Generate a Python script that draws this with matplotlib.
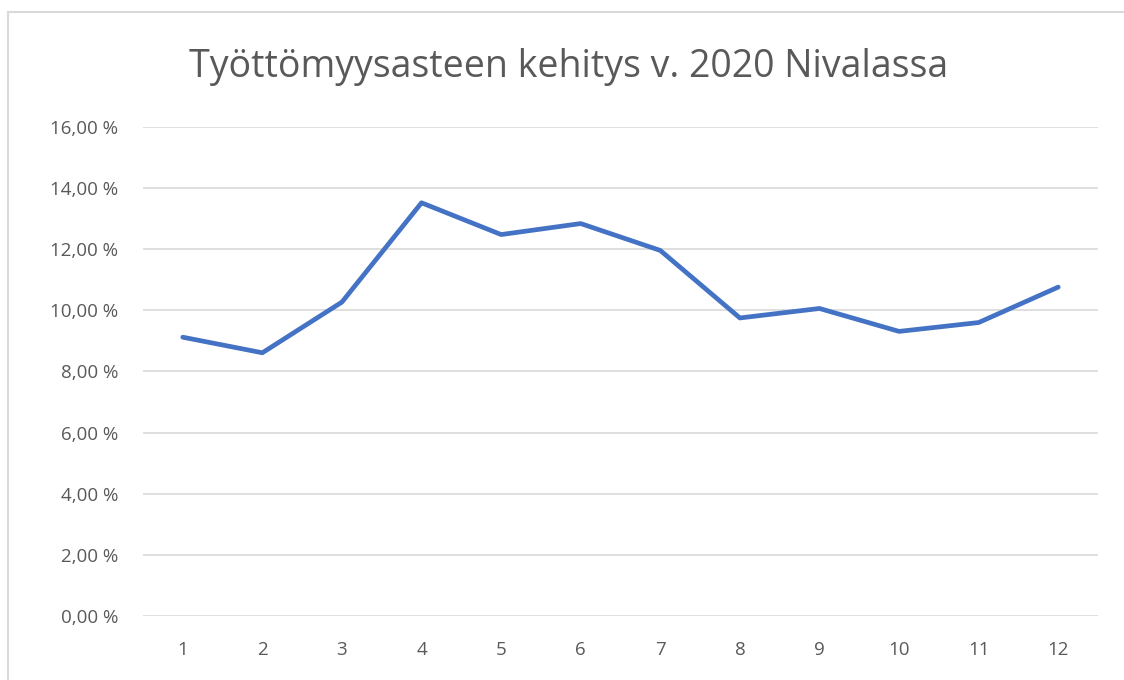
import matplotlib.pyplot as plt
from matplotlib.patches import Rectangle
from matplotlib.ticker import FuncFormatter

# kuukaudet ja työttömyysaste (%)
months = [1, 2, 3, 4, 5, 6, 7, 8, 9, 10, 11, 12]
rate = [9.12, 8.61, 10.27, 13.52, 12.48, 12.84, 11.96, 9.75, 10.06, 9.31, 9.60, 10.76]
y_ticks = [0, 2, 4, 6, 8, 10, 12, 14, 16]

title = "Työttömyysasteen kehitys v. 2020 Nivalassa"
grey = "#595959"

plt.rcParams["font.family"] = ["Open Sans", "DejaVu Sans"]

fig = plt.figure(figsize=(11.24, 6.8), dpi=100)
ax = fig.add_axes([0.1272, 0.0944, 0.8497, 0.7188])

# kehys (vain vasen ja ylä näkyvät)
fig.patches.append(Rectangle((8 / 1124, -0.1), 1.2, 1.1 - 12 / 680,
                             transform=fig.transFigure, fill=False,
                             edgecolor="#d9d9d9", linewidth=1.5))

ax.plot(months, rate, color="#4472C4", linewidth=3.4, solid_capstyle="round",
        solid_joinstyle="round", zorder=3)

ax.set_xlim(0.5, 12.5)
ax.set_ylim(0, 16)
ax.set_xticks(months)
ax.set_yticks(y_ticks)
ax.yaxis.set_major_formatter(FuncFormatter(lambda v, p: f"{v:.2f} %".replace(".", ",")))
ax.grid(axis="y", color="#d9d9d9", linewidth=1.2)
ax.set_axisbelow(True)
for s in ax.spines.values():
    s.set_visible(False)
ax.tick_params(length=0, labelsize=13.5, labelcolor=grey)
ax.tick_params(axis="y", pad=18)
ax.tick_params(axis="x", pad=18)

fig.text(0.506, 0.902, title, ha="center", va="center", fontsize=27, color=grey)

fig.savefig("out.png", dpi=100)
